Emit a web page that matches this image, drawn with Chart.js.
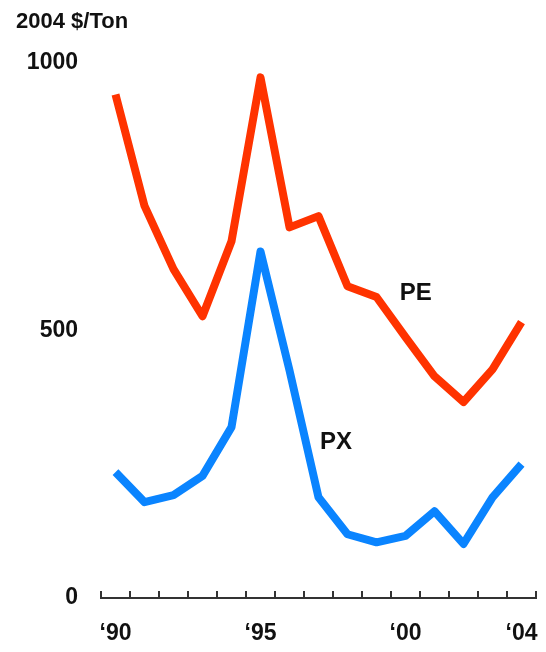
<!DOCTYPE html>
<html>
<head>
<meta charset="utf-8">
<script src="https://cdn.jsdelivr.net/npm/chart.js@4"></script>
<style>
  html, body { margin: 0; padding: 0; background: #fff; }
  #wrap { width: 546px; height: 652px; position: relative; }
</style>
</head>
<body>
<div id="wrap"><canvas id="priceChart"></canvas></div>
<script>
// anos 1990..2004
const years = ['1990','1991','1992','1993','1994','1995','1996','1997','1998','1999','2000','2001','2002','2003','2004'];
const yearTicks = ['\u201890','','','','','\u201895','','','','','\u201800','','','','\u201804'];
const pePrices = [940, 732, 614, 526, 666, 972, 692, 713, 582, 562, 487, 414, 366, 427, 515];
const pxPrices = [235, 179, 192, 228, 319, 647, 425, 188, 119, 104, 116, 162, 101, 188, 250];
const yTicks = [0, 500, 1000];
// series name labels: [text, x index, y value]
const seriesLabels = [['PE', 10.35, 568], ['PX', 7.6, 291]];

const RED = '#ff3300';
const BLUE = '#0a84ff';
const INK = '#111';
const FONT = '"Liberation Sans", Arial, sans-serif';

// small upward ticks on the x axis + PE/PX names
const decorations = {
    id: 'decorations',
    afterDraw(chart){
        const ctx = chart.ctx;
        const xs = chart.scales.x, ys = chart.scales.y;
        const step = (xs.right - xs.left) / years.length;
        ctx.save();
        ctx.strokeStyle = '#333';
        ctx.lineWidth = 2;
        for(let i = 0; i <= years.length; i++){
            const x = Math.round(xs.left + i * step);
            ctx.beginPath();
            ctx.moveTo(x, ys.bottom);
            ctx.lineTo(x, ys.bottom - 7);
            ctx.stroke();
        }
        ctx.fillStyle = INK;
        ctx.font = 'bold 24px ' + FONT;
        ctx.textAlign = 'center';
        ctx.textBaseline = 'middle';
        seriesLabels.forEach(([txt, xi, yv]) => {
            const x = xs.left + (xi + 0.5) * step;
            ctx.fillText(txt, x, ys.getPixelForValue(yv));
        });
        ctx.restore();
    }
};

const ctx = document.getElementById('priceChart').getContext('2d');
new Chart(ctx, {
    type: 'line',
    data: {
        labels: years,
        datasets: [
            { label: 'PE', data: pePrices, borderColor: RED, borderWidth: 8, pointRadius: 0,
              tension: 0, borderJoinStyle: 'round', borderCapStyle: 'butt' },
            { label: 'PX', data: pxPrices, borderColor: BLUE, borderWidth: 8, pointRadius: 0,
              tension: 0, borderJoinStyle: 'round', borderCapStyle: 'butt' }
        ]
    },
    options: {
        responsive: true,
        maintainAspectRatio: false,
        animation: false,
        layout: { padding: { left: 16, right: 10, top: 0, bottom: 6 } },
        plugins: {
            legend: { display: false },
            tooltip: { enabled: false },
            title: {
                display: true,
                text: '2004 $/Ton',
                align: 'start',
                color: INK,
                font: { family: FONT, size: 22, weight: 'bold' },
                padding: { top: 9, bottom: 27 }
            }
        },
        scales: {
            x: {
                offset: true,
                grid: { display: false, drawTicks: false },
                border: { display: true, color: '#333', width: 2 },
                afterFit: s => { s.height = 48; s.paddingLeft = 0; s.paddingRight = 0; },
                ticks: {
                    autoSkip: false,
                    maxRotation: 0,
                    padding: 22,
                    color: INK,
                    font: { family: FONT, size: 23, weight: 'bold' },
                    callback: (v, i) => yearTicks[i]
                }
            },
            y: {
                min: 0,
                max: 1000,
                afterBuildTicks: s => { s.ticks = yTicks.map(v => ({ value: v })); },
                afterFit: s => { s.width = 85; s.paddingTop = 0; s.paddingBottom = 0; },
                grid: { display: false, drawTicks: false },
                border: { display: false },
                ticks: {
                    padding: 23,
                    color: INK,
                    font: { family: FONT, size: 23, weight: 'bold' },
                    callback: v => String(v)
                }
            }
        }
    },
    plugins: [decorations]
});
</script>
</body>
</html>
